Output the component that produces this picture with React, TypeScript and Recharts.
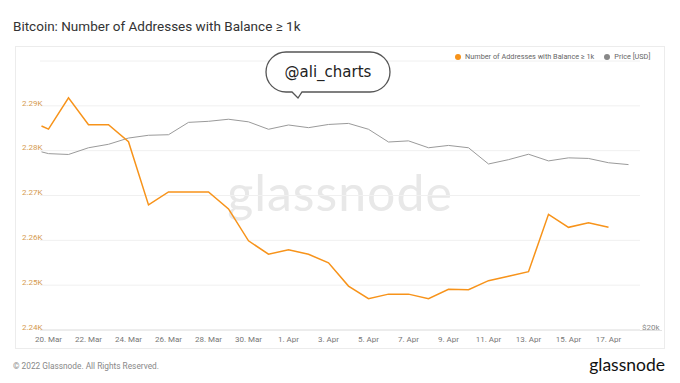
import { LineChart, Line, XAxis, YAxis, CartesianGrid } from "recharts";

// day offset from 20 Mar 2022 (first sample sits slightly before the 20 Mar tick)
const days = [
  -0.35, 0, 1, 2, 3, 4, 5, 6, 7, 8, 9, 10, 11, 12, 13, 14, 15, 16, 17, 18, 19, 20,
  21, 22, 23, 24, 25, 26, 27, 28, 29,
];

const addresses = [
  2285.5, 2284.8, 2291.8, 2285.8, 2285.8, 2282, 2267.9, 2270.8, 2270.8, 2270.8,
  2267, 2259.9, 2256.9, 2257.9, 2256.9, 2255, 2249.8, 2247, 2248, 2248, 2247,
  2249.1, 2249, 2251, 2252, 2253, 2265.8, 2262.9, 2263.9, 2262.9,
];

const prices = [
  41400, 41100, 40960, 42100, 42700, 43800, 44300, 44400, 46700, 46900, 47300,
  46800, 45400, 46200, 45700, 46300, 46500, 45400, 43100, 43300, 42100, 42500,
  42100, 39400, 40100, 41000, 39900, 40400, 40300, 39600, 39300,
];

const tickDays = [0, 2, 4, 6, 8, 10, 12, 14, 16, 18, 20, 22, 24, 26, 28];
const tickLabels = [
  "20. Mar", "22. Mar", "24. Mar", "26. Mar", "28. Mar", "30. Mar", "1. Apr",
  "3. Apr", "5. Apr", "7. Apr", "9. Apr", "11. Apr", "13. Apr", "15. Apr", "17. Apr",
];

const addrTicks = [2240, 2250, 2260, 2270, 2280, 2290, 2300];
const priceTicks = [20000];

const ORANGE = "#f7931a";
const GREY = "#9a9a9a";
const FONT = "Roboto, 'Noto Sans', sans-serif";

const data = days.map((d, i) => ({
  d,
  addr: addresses[i],
  price: prices[i],
}));

function AddrTick({ y, payload }: any) {
  if (payload.value === 2300) return null;
  return (
    <text x={22} y={y - 3} dy="0.35em" fontSize={8} fill="#d59a4f" fontFamily={FONT}>
      {(payload.value / 1000).toFixed(2)}K
    </text>
  );
}

function PriceTick({ x, y, payload }: any) {
  return (
    <text x={x - 6} y={y - 3} dy="0.35em" fontSize={8} fill="#888" fontFamily={FONT}>
      ${payload.value / 1000}k
    </text>
  );
}

function DayTick({ x, y, payload }: any) {
  const i = tickDays.indexOf(payload.value);
  return (
    <text x={x} y={y + 1} dy="0.35em" textAnchor="middle" fontSize={8} fill="#777" fontFamily={FONT}>
      {tickLabels[i]}
    </text>
  );
}

export default function App() {
  return (
    <div
      style={{
        position: "absolute",
        left: 0,
        top: 0,
        width: 680,
        height: 383,
        background: "#fff",
        fontFamily: FONT,
        overflow: "hidden",
      }}
    >
      <div style={{ position: "absolute", left: 13, top: 18, fontSize: 13.5, color: "#333" }}>
        Bitcoin: Number of Addresses with Balance ≥ 1k
      </div>

      {/* card */}
      <div
        style={{
          position: "absolute",
          left: 15,
          top: 46,
          width: 650,
          height: 303,
          border: "1px solid #ececec",
          boxSizing: "border-box",
        }}
      />

      {/* watermark */}
      <div
        style={{
          position: "absolute",
          left: 0,
          width: 680,
          top: 162,
          textAlign: "center",
          fontSize: 50,
          color: "#e8e8e8",
          fontFamily: "Lato, sans-serif",
          letterSpacing: 1,
        }}
      >
        glassnode
      </div>

      {/* legend */}
      <div
        style={{
          position: "absolute",
          left: 455,
          top: 52,
          fontSize: 7.3,
          color: "#666",
          display: "flex",
          alignItems: "center",
          gap: 4,
        }}
      >
        <span style={{ width: 6, height: 6, borderRadius: 3, background: ORANGE }} />
        <span>Number of Addresses with Balance ≥ 1k</span>
        <span style={{ width: 6, height: 6, borderRadius: 3, background: "#888", marginLeft: 6 }} />
        <span>Price [USD]</span>
      </div>

      <div style={{ position: "absolute", left: 0, top: 0 }}>
        <LineChart width={680} height={360} data={data} margin={{ top: 61, right: 18, bottom: 10, left: 0 }}>
          <CartesianGrid vertical={false} stroke="#f0f0f0" yAxisId="addr" />
          <XAxis
            type="number"
            dataKey="d"
            domain={[-0.425, 29.575]}
            ticks={tickDays}
            tick={<DayTick />}
            tickLine={false}
            axisLine={{ stroke: "#e2e2e2" }}
            height={20}
            allowDataOverflow
          />
          <YAxis
            yAxisId="addr"
            domain={[2240, 2300]}
            ticks={addrTicks}
            tick={<AddrTick />}
            axisLine={false}
            tickLine={false}
            width={40}
            allowDataOverflow
          />
          <YAxis
            yAxisId="price"
            orientation="right"
            scale="log"
            domain={[20000, 60000]}
            ticks={priceTicks}
            tick={<PriceTick />}
            axisLine={false}
            tickLine={false}
            width={22}
            allowDataOverflow
          />
          <Line
            yAxisId="price"
            dataKey="price"
            stroke={GREY}
            strokeWidth={1}
            dot={false}
            isAnimationActive={false}
          />
          <Line
            yAxisId="addr"
            dataKey="addr"
            stroke={ORANGE}
            strokeWidth={1.5}
            dot={false}
            isAnimationActive={false}
          />
        </LineChart>
      </div>

      {/* axis line continues under the right-hand price labels, and the callout bubble */}
      <svg style={{ position: "absolute", left: 0, top: 0 }} width={680} height={383}>
        <line x1={640} x2={662} y1={330.5} y2={330.5} stroke="#e2e2e2" />
        <path
          d="M 286 52 L 370 52 A 20 20 0 0 1 370 92 L 302 92 L 298 98 L 292 92 L 286 92 A 20 20 0 0 1 286 52 Z"
          fill="#fff"
          stroke="#555"
          strokeWidth={1.3}
        />
        <text x={328} y={72} dy="0.35em" textAnchor="middle" fontSize={15} fill="#222" fontFamily="'DejaVu Sans', sans-serif">
          @ali_charts
        </text>
      </svg>

      {/* footer */}
      <div style={{ position: "absolute", left: 13, top: 361, fontSize: 8.3, color: "#888" }}>
        © 2022 Glassnode. All Rights Reserved.
      </div>
      <div style={{ position: "absolute", right: 15, top: 354, fontSize: 17.5, color: "#111", fontFamily: "Lato, sans-serif" }}>
        glassnode
      </div>
    </div>
  );
}
